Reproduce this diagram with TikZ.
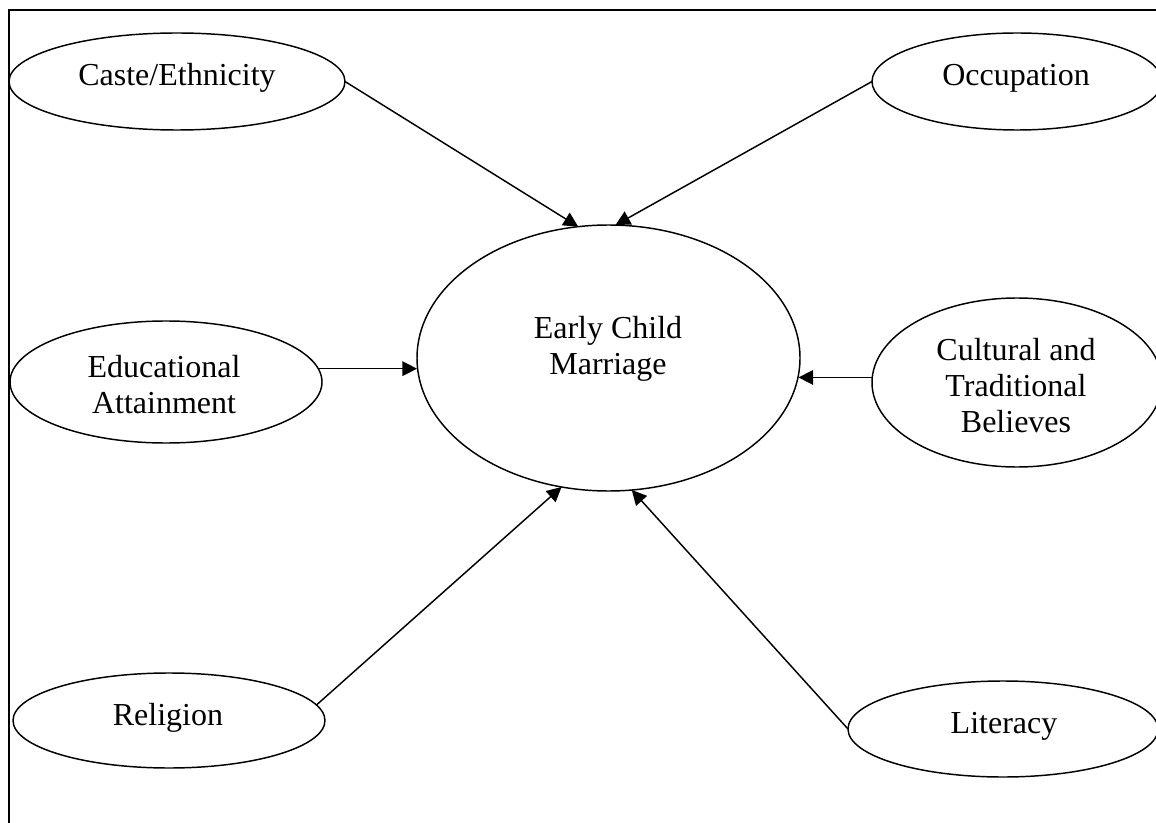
\documentclass[tikz,border=0pt]{standalone}
\usepackage{fontspec}
\setmainfont{Liberation Serif}
\usetikzlibrary{shapes.geometric,arrows.meta}
\begin{document}
\begin{tikzpicture}[x=0.75pt,y=-0.75pt,
  ell/.style={draw, ellipse, inner sep=0pt, outer sep=0pt, line width=1.1pt},
  lbl/.style={anchor=base, align=center, inner sep=0pt, font=\fontsize{24}{27}\selectfont},
  conn/.style={line width=1.1pt, -{Triangle[length=11pt,width=11pt]}}]
\useasboundingbox (0,0) rectangle (1156,823);
\draw[line width=1.6pt] (1156,10) -- (9,10) -- (9,823);

% ellipses
\node[ell, minimum width=252pt,   minimum height=72.75pt]  (caste) at (177,81.5)  {};
\node[ell, minimum width=217.5pt, minimum height=72.75pt]  (occ)   at (1017,81.5) {};
\node[ell, minimum width=234pt,   minimum height=91.5pt]   (edu)   at (166,382)   {};
\node[ell, minimum width=287.25pt,minimum height=199.5pt]  (ecm)   at (608.5,358) {};
\node[ell, minimum width=217.5pt, minimum height=126.75pt] (cult)  at (1017,382.5){};
\node[ell, minimum width=234pt,   minimum height=71.25pt]  (rel)   at (169,720.5) {};
\node[ell, minimum width=232.5pt, minimum height=72pt]     (lit)   at (1003,729)  {};

% labels (base = baseline of the last line)
\node[lbl] (castet) at (177,86)  {Caste/Ethnicity};
\node[lbl] (occt)   at (1016,86) {Occupation};
\node[lbl] (edut)   at (164,413) {Educational\\Attainment};
\node[lbl] (ecmt)   at (608,374) {Early Child\\Marriage};
\node[lbl] (cultt)  at (1016,432){Cultural and\\Traditional\\Believes};
\node[lbl] (relt)   at (168,725) {Religion};
\node[lbl] (litt)   at (1004,733){Literacy};

% connectors
\draw[conn] (caste.east) -- (ecm.103);
\draw[conn] (occ.west) -- (ecm.87);
\draw[conn] (edu.5) -- (edu.5 -| ecm.west);
\draw[conn] (cult.178) -- (cult.178 -| ecm.-5);
\draw[conn] (rel.6) -- (ecm.250);
\draw[conn] (lit.west) -- (ecm.280);
\end{tikzpicture}
\end{document}
